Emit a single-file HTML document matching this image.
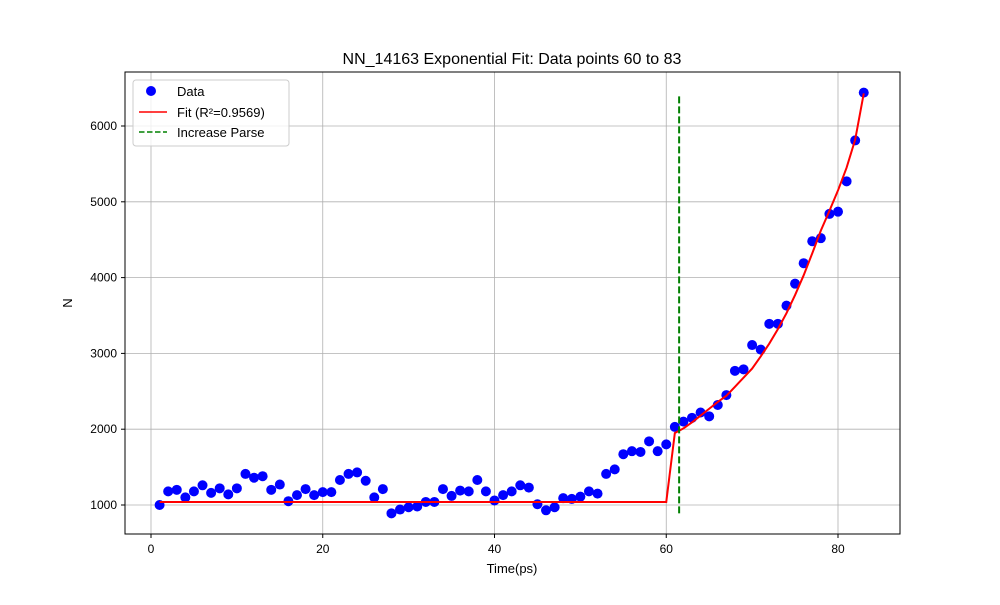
<!DOCTYPE html>
<html><head><meta charset="utf-8"><style>
body{margin:0;background:#fff;font-family:"Liberation Sans","DejaVu Sans",sans-serif}
</style></head><body>
<svg id="c" width="1000" height="600" xmlns="http://www.w3.org/2000/svg" font-family="Liberation Sans, DejaVu Sans, sans-serif">
<rect width="1000" height="600" fill="#fff"/>
<g id="grid"></g>
<g id="plot"></g>
<rect x="125" y="72" width="775" height="462" fill="none" stroke="#000" stroke-width="1"/>
<g id="ticks"></g>
<text x="512" y="64" text-anchor="middle" font-size="16">NN_14163 Exponential Fit: Data points 60 to 83</text>
<text x="512" y="573" text-anchor="middle" font-size="13">Time(ps)</text>
<text x="72" y="303" text-anchor="middle" font-size="13" transform="rotate(-90 72 303)">N</text>
<g>
<rect x="133" y="80" width="156" height="66" rx="3" fill="#fff" fill-opacity="0.8" stroke="#ccc"/>
<circle cx="151" cy="91" r="5" fill="#0000ff"/>
<text x="177" y="96" font-size="13">Data</text>
<line x1="139" y1="112" x2="167" y2="112" stroke="#ff0000" stroke-width="1.5"/>
<text x="177" y="117" font-size="13">Fit (R²=0.9569)</text>
<line x1="139" y1="132" x2="167" y2="132" stroke="#008000" stroke-width="1.5" stroke-dasharray="5.5,2.5"/>
<text x="177" y="137" font-size="13">Increase Parse</text>
</g>
</svg>
<script>
const dataY=[1000,1180,1200,1100,1180,1260,1160,1220,1140,1220,1410,1360,1380,1200,1270,1050,1130,1210,1130,1170,1170,1330,1410,1430,1320,1100,1210,890,940,970,980,1040,1040,1210,1120,1190,1180,1330,1180,1060,1130,1180,1260,1230,1010,930,970,1090,1080,1110,1180,1150,1410,1470,1670,1710,1700,1840,1710,1800,2030,2100,2150,2220,2170,2320,2450,2770,2790,3110,3050,3390,3390,3630,3920,4190,4480,4520,4840,4870,5270,5810,6440];
const fitX=[1,60,61,62,63,64,65,66,67,68,69,70,71,72,73,74,75,76,77,78,79,80,81,82,83];
const fitY=[1040,1040,1950,2010,2090,2180,2270,2360,2440,2560,2680,2800,2960,3130,3320,3530,3770,4030,4320,4620,4880,5150,5450,5820,6430];
const xTicks=[0,20,40,60,80];
const yTicks=[1000,2000,3000,4000,5000,6000];
const parseX=61.5, parseY0=890, parseY1=6430;
const X=v=>151+v*8.5875, Y=v=>505-(v-1000)*0.0758;
const ns="http://www.w3.org/2000/svg";
function mk(p,t,a){const e=document.createElementNS(ns,t);for(const k in a)e.setAttribute(k,a[k]);p.appendChild(e);return e;}
const g=document.getElementById('grid'),pl=document.getElementById('plot'),tk=document.getElementById('ticks');
xTicks.forEach(v=>{const x=X(v);
 const l=mk(g,'line',{x1:x,x2:x,y1:72,y2:534,stroke:'#b0b0b0','stroke-width':0.8});
 
 
 mk(tk,'line',{x1:x,x2:x,y1:534,y2:538,stroke:'#000'});
 const t=mk(tk,'text',{x:x,y:553,'text-anchor':'middle','font-size':12});t.textContent=v;
 
 });
yTicks.forEach(v=>{const y=Y(v);
 const l=mk(g,'line',{x1:125,x2:900,y1:y,y2:y,stroke:'#b0b0b0','stroke-width':0.8});
 
 
 mk(tk,'line',{x1:121,x2:125,y1:y,y2:y,stroke:'#000'});
 const t=mk(tk,'text',{x:117,y:y+4,'text-anchor':'end','font-size':12});t.textContent=v;
 
 });
dataY.forEach((v,i)=>{const c=mk(pl,'circle',{cx:X(i+1),cy:Y(v),r:5,fill:'#0000ff'});
 
 });
const fl=mk(pl,'polyline',{points:fitX.map((x,i)=>X(x)+','+Y(fitY[i])).join(' '),fill:'none',stroke:'#ff0000','stroke-width':2});


const pv=mk(pl,'line',{x1:X(parseX),x2:X(parseX),y1:Y(parseY0),y2:Y(parseY1),stroke:'#008000','stroke-width':2,'stroke-dasharray':'7,3'});


</script>
</body></html>
